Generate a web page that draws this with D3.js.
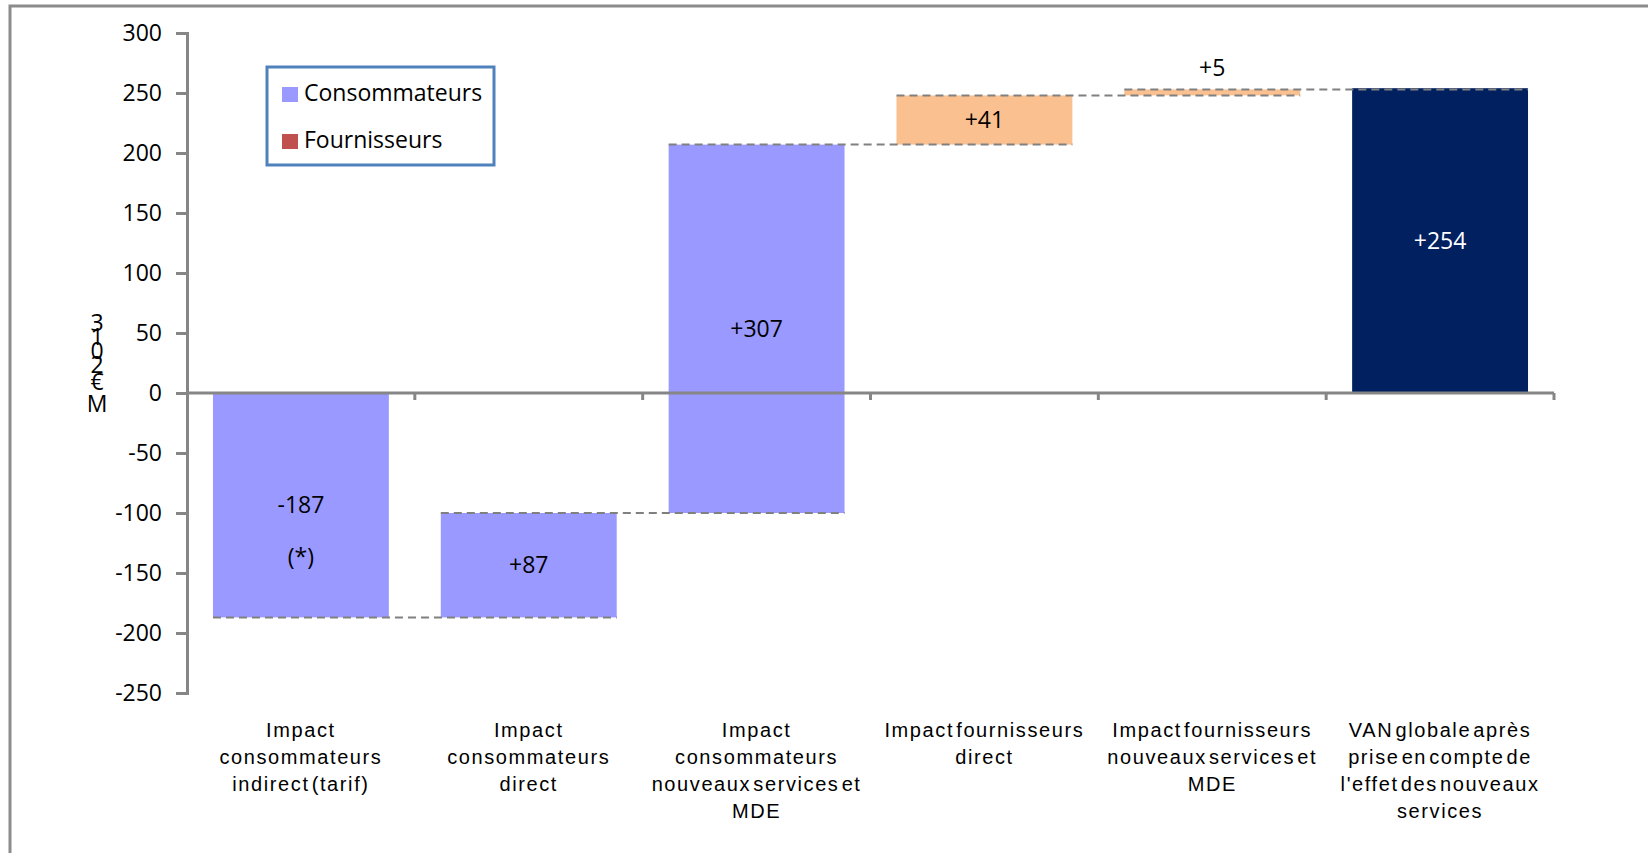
<!DOCTYPE html>
<html>
<head>
<meta charset="utf-8">
<script src="https://cdn.jsdelivr.net/npm/d3@7"></script>
<style>
  html, body { margin: 0; padding: 0; background: #ffffff; }
  svg { display: block; }
</style>
</head>
<body>
<svg id="chart" width="1648" height="853"></svg>
<script>
// Waterfall steps (M€ 2013)
const categories = [
  ["Impact", "consommateurs", "indirect (tarif)"],
  ["Impact", "consommateurs", "direct"],
  ["Impact", "consommateurs", "nouveaux services et", "MDE"],
  ["Impact fournisseurs", "direct"],
  ["Impact fournisseurs", "nouveaux services et", "MDE"],
  ["VAN globale après", "prise en compte de", "l'effet des nouveaux", "services"]
];
const stepValues = [-187, 87, 307, 41, 5];
const stepGroups = ["Consommateurs", "Consommateurs", "Consommateurs", "Fournisseurs", "Fournisseurs"];
const totalValue = 254;
const yTicks = [300, 250, 200, 150, 100, 50, 0, -50, -100, -150, -200, -250];
const legendItems = ["Consommateurs", "Fournisseurs"];
const axisTitle = "M€2013";
const footnote = "(*)";

const colors = {
  Consommateurs: "#9999ff",
  Fournisseurs: "#fac090",
  total: "#002060",
  legendFournisseurs: "#c0504d"
};

const svg = d3.select("#chart");
const numFont = "'Open Sans', 'Noto Sans', sans-serif";
const labelFont = "'Liberation Sans', Arial, sans-serif";

// outer frame
svg.append("rect")
  .attr("x", 10).attr("y", 6)
  .attr("width", 1700).attr("height", 900)
  .attr("fill", "none")
  .attr("stroke", "#8c8c8c")
  .attr("stroke-width", 3);

const plot = { left: 187, right: 1554 };
const y = d3.scaleLinear().domain([-250, 300]).range([693, 33]);
const x = d3.scaleBand()
  .domain(d3.range(categories.length))
  .range([plot.left, plot.right])
  .paddingInner(0.228)
  .paddingOuter(0.114);
const xCat = d3.scaleBand()
  .domain(d3.range(categories.length))
  .range([plot.left, plot.right]);

// build waterfall segments
let run = 0;
const bars = stepValues.map((v, i) => {
  const start = run;
  run += v;
  return { i, start, end: run, value: v, color: colors[stepGroups[i]] };
});
bars.push({ i: categories.length - 1, start: 0, end: totalValue, value: totalValue, color: colors.total, total: true });

const fmt = v => (v > 0 ? "+" : "-") + Math.abs(v);

// bars
svg.append("g").selectAll("rect")
  .data(bars)
  .join("rect")
  .attr("x", d => x(d.i))
  .attr("width", x.bandwidth())
  .attr("y", d => y(Math.max(d.start, d.end)))
  .attr("height", d => Math.abs(y(d.start) - y(d.end)))
  .attr("fill", d => d.color);

// dashed connectors: each level spans the bar that ends there and the next one
const connectors = bars.slice(0, stepValues.length).map(d => ({
  level: d.end,
  x1: x(d.i),
  x2: x(d.i + 1) + x.bandwidth()
}));
svg.append("g").selectAll("line")
  .data(connectors)
  .join("line")
  .attr("x1", d => d.x1)
  .attr("x2", d => d.x2)
  .attr("y1", d => y(d.level))
  .attr("y2", d => y(d.level))
  .attr("stroke", "#808080")
  .attr("stroke-width", 2)
  .attr("stroke-dasharray", "8,5");

// y axis (plain hyphen for negatives)
const yAxis = d3.axisLeft(y).tickValues(yTicks).tickSize(11).tickPadding(14)
  .tickFormat(d => (d < 0 ? "-" : "") + Math.abs(d));
const gy = svg.append("g").attr("transform", `translate(${plot.left},0)`).call(yAxis);
gy.select(".domain").attr("stroke", "#868686").attr("stroke-width", 3);
gy.selectAll(".tick line").attr("stroke", "#868686").attr("stroke-width", 3);
gy.selectAll(".tick text")
  .attr("font-family", numFont)
  .attr("font-size", 23)
  .attr("fill", "#000");

// x axis along zero with category separators
const gx = svg.append("g");
gx.append("line")
  .attr("x1", plot.left).attr("x2", plot.right)
  .attr("y1", y(0)).attr("y2", y(0))
  .attr("stroke", "#868686").attr("stroke-width", 3);
gx.selectAll("line.sep")
  .data(d3.range(1, categories.length + 1))
  .join("line")
  .attr("class", "sep")
  .attr("x1", i => xCat(i - 1) + xCat.bandwidth())
  .attr("x2", i => xCat(i - 1) + xCat.bandwidth())
  .attr("y1", y(0)).attr("y2", y(0) + 7)
  .attr("stroke", "#868686").attr("stroke-width", 3);

// category labels
const catG = svg.append("g")
  .attr("font-family", labelFont)
  .attr("font-size", 20)
  .attr("letter-spacing", "1.6px")
  .attr("word-spacing", "-5px")
  .attr("fill", "#000")
  .attr("text-anchor", "middle");
categories.forEach((lines, i) => {
  const t = catG.append("text")
    .attr("x", xCat(i) + xCat.bandwidth() / 2)
    .attr("y", 737);
  lines.forEach((ln, k) => {
    t.append("tspan")
      .attr("x", xCat(i) + xCat.bandwidth() / 2)
      .attr("dy", k === 0 ? 0 : 27)
      .text(ln);
  });
});

// value labels
const valG = svg.append("g")
  .attr("font-family", numFont)
  .attr("font-size", 23)
  .attr("text-anchor", "middle");
bars.forEach(d => {
  const cx = x(d.i) + x.bandwidth() / 2;
  const h = Math.abs(y(d.start) - y(d.end));
  const mid = (y(d.start) + y(d.end)) / 2;
  const cy = h < 30 ? y(Math.max(d.start, d.end)) - 21 : mid;
  valG.append("text")
    .attr("x", cx)
    .attr("y", cy)
    .attr("dy", "0.35em")
    .attr("fill", d.total ? "#ffffff" : "#000000")
    .text(fmt(d.value));
});
// footnote marker on the first step
valG.append("text")
  .attr("x", x(0) + x.bandwidth() / 2)
  .attr("y", (y(bars[0].start) + y(bars[0].end)) / 2 + 52)
  .attr("dy", "0.35em")
  .attr("fill", "#000")
  .text(footnote);

// y axis title: characters stacked upright, reading upward
const titleG = svg.append("g")
  .attr("font-family", numFont)
  .attr("font-size", 23)
  .attr("text-anchor", "middle")
  .attr("fill", "#000");
Array.from(axisTitle).forEach((ch, i) => {
  const yy = i === 0 ? 412 : (i === 1 ? 390 : 373 - 14 * (i - 2));
  titleG.append("text").attr("x", 97).attr("y", yy).text(ch);
});

// legend
const lg = svg.append("g");
lg.append("rect")
  .attr("x", 267).attr("y", 67)
  .attr("width", 227).attr("height", 98)
  .attr("fill", "#fff")
  .attr("stroke", "#4f81bd")
  .attr("stroke-width", 3);
const legendColors = [colors.Consommateurs, colors.legendFournisseurs];
legendItems.forEach((name, k) => {
  const ty = 101 + k * 47;
  lg.append("rect")
    .attr("x", 282).attr("y", ty - 14)
    .attr("width", 16).attr("height", 15)
    .attr("fill", legendColors[k]);
  lg.append("text")
    .attr("x", 304).attr("y", ty)
    .attr("font-family", numFont)
    .attr("font-size", 23)
    .attr("fill", "#000")
    .text(name);
});
</script>
</body>
</html>
